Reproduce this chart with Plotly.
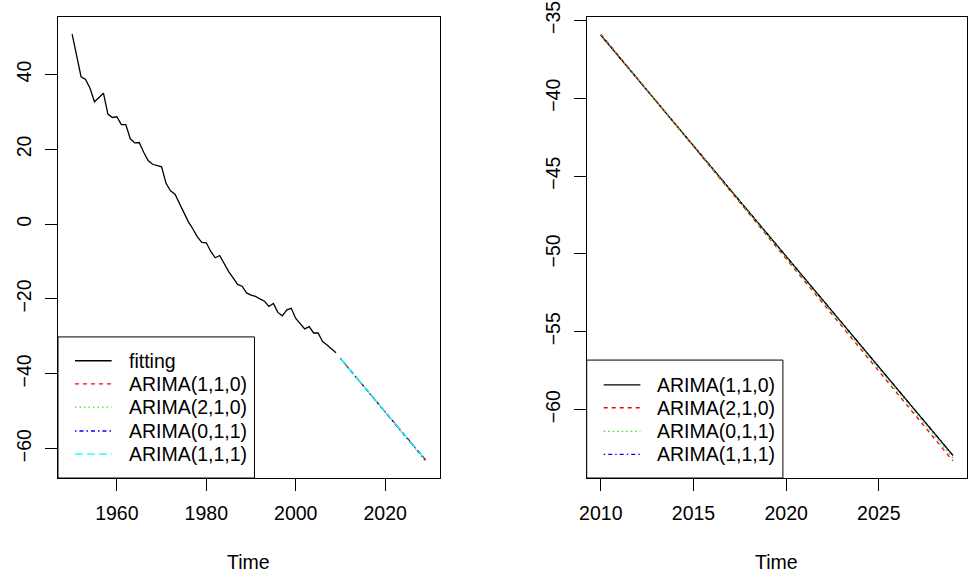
import plotly.graph_objects as go

# ---------------- data ----------------
fit_years = list(range(1950, 2010))
fitting = [50.8, 45.0, 39.4, 38.7, 36.3, 32.7, 33.9, 35.0, 29.4, 28.5,
           28.7, 26.6, 26.6, 22.8, 21.7, 21.8, 19.2, 17.0, 16.0, 15.6,
           15.3, 10.9, 8.9, 8.0, 5.5, 3.0, 0.6, -1.3, -3.4, -4.9,
           -5.0, -7.3, -9.0, -8.4, -10.5, -12.7, -14.4, -16.1, -16.6, -18.4,
           -19.0, -19.3, -20.0, -20.6, -22.0, -21.2, -23.6, -24.5, -22.9, -22.5,
           -25.2, -26.6, -28.0, -27.4, -29.1, -29.1, -31.4, -32.3, -33.3, -34.4]

fc_years = list(range(2010, 2030))
arima110 = [-35.95, -37.37, -38.79, -40.21, -41.63, -43.05, -44.47, -45.89, -47.31, -48.73,
            -50.16, -51.58, -53.00, -54.42, -55.84, -57.26, -58.68, -60.10, -61.52, -62.94]
arima210 = [-35.88, -37.32, -38.77, -40.21, -41.65, -43.10, -44.54, -45.98, -47.43, -48.87,
            -50.31, -51.76, -53.20, -54.64, -56.09, -57.53, -58.97, -60.42, -61.86, -63.30]
arima011 = [-35.92, -37.35, -38.78, -40.21, -41.64, -43.07, -44.50, -45.93, -47.36, -48.79,
            -50.23, -51.66, -53.09, -54.52, -55.95, -57.38, -58.81, -60.24, -61.67, -63.10]
arima111 = [-35.95, -37.37, -38.79, -40.21, -41.63, -43.05, -44.47, -45.89, -47.31, -48.73,
            -50.16, -51.58, -53.00, -54.42, -55.84, -57.26, -58.68, -60.10, -61.52, -62.94]

left_labels = ["fitting", "ARIMA(1,1,0)", "ARIMA(2,1,0)", "ARIMA(0,1,1)", "ARIMA(1,1,1)"]
right_labels = ["ARIMA(1,1,0)", "ARIMA(2,1,0)", "ARIMA(0,1,1)", "ARIMA(1,1,1)"]

# ---------------- styles ----------------
FONT = "Liberation Sans, Arial, sans-serif"
FS = 19.5
W, H = 969, 581
ML, MR, MT, MB = 58, 1, 14, 103
PW, PH = W - ML - MR, H - MT - MB

SOLID = "solid"
DASH = "4px,4px"
DOT = "1.5px,3px"
DOTDASH = "1.5px,3px,4px,3px"
LONGDASH = "8px,4px"

GREEN = "#22EE22"
left_styles = [("black", SOLID), ("red", DASH), (GREEN, DOT), ("blue", DOTDASH), ("cyan", LONGDASH)]
right_styles = [("black", SOLID), ("red", DASH), (GREEN, DOT), ("blue", DOTDASH)]

LW = 1.3


def rng(vals):
    lo, hi = min(vals), max(vals)
    d = (hi - lo) * 0.04
    return [lo - d, hi + d]


fig = go.Figure()

# left panel
left_series = [(fit_years, fitting), (fc_years, arima110), (fc_years, arima210),
               (fc_years, arima011), (fc_years, arima111)]
for (xs, ys), (col, dash), name in zip(left_series, left_styles, left_labels):
    fig.add_trace(go.Scatter(x=xs, y=ys, mode="lines", name=name, showlegend=False,
                             line=dict(color=col, dash=dash, width=LW),
                             xaxis="x", yaxis="y"))

# right panel (ARIMA(1,1,1) drawn first, underneath)
right_series = [arima110, arima210, arima011, arima111]
order = [3, 0, 1, 2]
for i in order:
    col, dash = right_styles[i]
    fig.add_trace(go.Scatter(x=fc_years, y=right_series[i], mode="lines", name=right_labels[i],
                             showlegend=False, line=dict(color=col, dash=dash, width=LW),
                             xaxis="x2", yaxis="y2"))

xl = rng(fit_years + fc_years)
yl = rng(fitting + arima110 + arima210 + arima011 + arima111)
xr = rng(fc_years)
yr = rng(arima110 + arima210 + arima011 + arima111)

lx0, lx1 = 0.0, (440 - ML) / PW
rx0, rx1 = (587.3 - ML) / PW, (968 - ML) / PW

axis_common = dict(showline=True, mirror=True, linecolor="black", linewidth=1,
                   ticks="outside", ticklen=12, tickcolor="black", tickwidth=1,
                   showgrid=False, zeroline=False, ticklabeloverflow="allow",
                   tickfont=dict(family=FONT, size=FS, color="black"))

fig.update_layout(
    width=W, height=H,
    margin=dict(l=ML, r=MR, t=MT, b=MB, pad=0),
    paper_bgcolor="white", plot_bgcolor="white",
    xaxis=dict(domain=[lx0, lx1], range=xl, tickvals=[1960, 1980, 2000, 2020],
               anchor="y", ticklabelstandoff=6, **axis_common),
    yaxis=dict(domain=[0, 1], range=yl, tickvals=[-60, -40, -20, 0, 20, 40],
               anchor="x", tickangle=-90, ticklabelstandoff=6, **axis_common),
    xaxis2=dict(domain=[rx0, rx1], range=xr, tickvals=[2010, 2015, 2020, 2025],
                anchor="y2", ticklabelstandoff=6, **axis_common),
    yaxis2=dict(domain=[0, 1], range=yr, tickvals=[-60, -55, -50, -45, -40, -35],
                anchor="x2", tickangle=-90, ticklabelstandoff=6, **axis_common),
    showlegend=False,
)


def px(x):
    return (x - ML) / PW


def py(y):
    return (MT + PH - y) / PH


shapes = []
annotations = []


def legend(box, labels, styles, ys, sx0, sx1, tx):
    x0, y0, x1 = box
    shapes.append(dict(type="rect", xref="paper", yref="paper",
                       x0=px(x0), x1=px(x1), y0=py(MT + PH), y1=py(y0),
                       line=dict(color="black", width=1), fillcolor="white", layer="above"))
    for lab, (col, dash), yy in zip(labels, styles, ys):
        shapes.append(dict(type="line", xref="paper", yref="paper",
                           x0=px(sx0), x1=px(sx1), y0=py(yy), y1=py(yy),
                           line=dict(color=col, dash=dash, width=LW), layer="above"))
        annotations.append(dict(text=lab, xref="paper", yref="paper", x=px(tx), y=py(yy),
                                xanchor="left", yanchor="middle", showarrow=False,
                                font=dict(family=FONT, size=FS, color="black")))


legend((58, 336, 254.7), left_labels, left_styles,
       [360, 383.3, 406.7, 430.7, 454], 75, 111.7, 127)
legend((587.3, 359.3, 783.7), right_labels, right_styles,
       [384.3, 407.3, 431, 454.3], 604.3, 641, 656)

for cx in (249, 777.7):
    annotations.append(dict(text="Time", xref="paper", yref="paper", x=px(cx), y=py(562.5),
                            xanchor="center", yanchor="middle", showarrow=False,
                            font=dict(family=FONT, size=FS, color="black")))

fig.update_layout(shapes=shapes, annotations=annotations)

fig.write_html("out.html")
